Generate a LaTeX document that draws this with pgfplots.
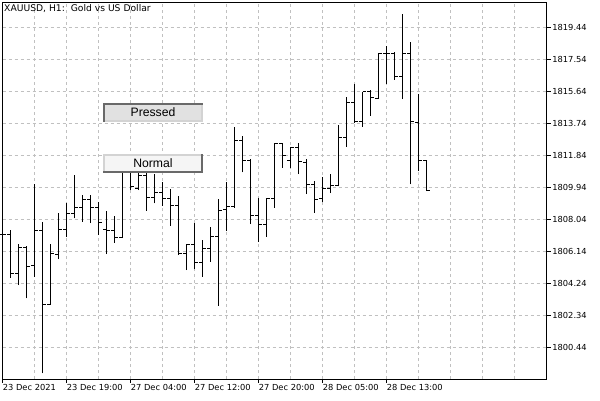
\documentclass[border=0pt]{standalone}
\usepackage{pgfplots}
\pgfplotsset{compat=1.18}
\usepackage{pgfplotstable}
\usepackage{fontspec}
\setmainfont{DejaVu Sans}
\newfontfamily\arialf{Liberation Sans}
\definecolor{gridc}{RGB}{192,192,192}
\definecolor{btndark}{RGB}{105,105,105}
\definecolor{btnlight}{RGB}{211,211,211}
\definecolor{pfill}{RGB}{225,225,225}
\definecolor{nfill}{RGB}{245,245,245}

\pgfplotstableread{
k O H L C
0 1807.13 1807.55 1806.54 1807.13
1 1807.13 1807.43 1804.60 1804.86
2 1804.86 1806.58 1804.16 1806.40
3 1806.40 1806.48 1803.37 1805.25
4 1805.31 1810.14 1804.66 1807.37
5 1807.37 1807.92 1798.92 1802.98
6 1803.02 1806.60 1802.98 1806.02
7 1805.99 1808.46 1805.69 1807.47
8 1807.47 1809.01 1807.03 1808.42
9 1808.42 1810.69 1808.12 1808.79
10 1808.77 1809.51 1807.92 1809.25
11 1809.25 1809.51 1807.83 1808.77
12 1808.77 1809.07 1807.13 1807.86
13 1807.43 1808.56 1805.99 1807.37
14 1807.37 1808.28 1806.67 1806.99
15 1806.99 1811.41 1806.95 1810.99
16 1810.99 1811.47 1809.80 1810.00
17 1809.90 1811.29 1809.80 1810.69
18 1810.69 1811.23 1808.57 1809.37
19 1809.37 1810.74 1809.01 1809.67
20 1809.67 1810.26 1808.87 1809.27
21 1809.27 1809.86 1807.67 1808.87
22 1808.87 1809.45 1805.94 1806.05
23 1806.05 1806.60 1805.05 1806.54
24 1806.54 1807.83 1805.11 1805.51
25 1805.51 1806.83 1804.66 1806.30
26 1806.30 1807.59 1805.55 1807.03
27 1807.03 1809.27 1802.93 1808.57
28 1808.65 1810.30 1807.37 1808.81
29 1808.81 1813.56 1808.75 1812.71
30 1812.71 1813.03 1810.85 1811.58
31 1811.58 1811.62 1807.77 1808.26
32 1808.26 1809.31 1806.73 1807.73
33 1807.73 1809.31 1807.03 1809.29
34 1809.29 1812.61 1808.75 1812.59
35 1812.59 1812.61 1811.13 1811.86
36 1811.58 1812.36 1811.09 1812.32
37 1812.32 1812.58 1810.74 1811.48
38 1811.45 1811.63 1809.55 1810.14
39 1810.14 1810.34 1808.46 1809.25
40 1809.29 1810.59 1809.07 1809.90
41 1809.90 1810.75 1809.61 1810.06
42 1810.06 1813.66 1810.02 1812.93
43 1812.93 1815.33 1812.37 1815.01
44 1815.01 1816.08 1813.80 1813.86
45 1813.84 1815.64 1813.56 1815.62
46 1815.62 1815.74 1814.22 1815.30
47 1815.25 1817.96 1815.23 1817.92
48 1817.92 1818.37 1816.12 1817.88
49 1817.92 1818.02 1816.35 1816.53
50 1816.53 1820.25 1815.19 1817.92
51 1817.92 1818.57 1810.14 1813.86
52 1813.82 1815.49 1810.95 1811.57
53 1811.57 1811.59 1809.74 1809.76
}\bars

\begin{document}
\begin{tikzpicture}
\begin{axis}[
  name=ax,
  scale only axis,
  width=544pt, height=376.3pt,
  xmin=0, xmax=68,
  ymin=1798.58, ymax=1820.92,
  clip=false,
  axis line style={black, line width=1pt},
  xtick={0,8,16,24,32,40,48},
  xticklabels={23 Dec 2021,23 Dec 19:00,27 Dec 04:00,27 Dec 12:00,27 Dec 20:00,28 Dec 05:00,28 Dec 13:00},
  minor xtick={4,12,20,28,36,44,52,56,60,64},
  ytick={1800.44,1802.34,1804.24,1806.14,1808.04,1809.94,1811.84,1813.74,1815.64,1817.54,1819.44},
  yticklabels={1800.44,1802.34,1804.24,1806.14,1808.04,1809.94,1811.84,1813.74,1815.64,1817.54,1819.44},
  xmajorgrids, xminorgrids, ymajorgrids,
  major grid style={draw=gridc, line width=1pt, dash pattern=on 3pt off 3pt},
  minor grid style={draw=gridc, line width=1pt, dash pattern=on 3pt off 3pt},
  tick align=outside,
  xtick pos=bottom, ytick pos=right,
  major tick length=4pt, minor tick length=0pt,
  tick style={black, line width=1pt},
  xticklabel style={anchor=north west, inner xsep=0pt, inner ysep=1pt, font=\fontsize{8.3}{10}\selectfont},
  yticklabel style={anchor=west, inner xsep=1.5pt, font=\fontsize{8.3}{10}\selectfont},
]
% high-low lines
\addplot[draw=none, mark=none,
  error bars/.cd, y dir=plus, y explicit, error mark=none,
  error bar style={draw=black, line width=1pt}]
  table[x=k, y=L, y error plus expr=\thisrow{H}-\thisrow{L}]{\bars};
% open ticks
\addplot[draw=none, mark=none,
  error bars/.cd, x dir=minus, x fixed=0.4, error mark=none,
  error bar style={draw=black, line width=1pt}]
  table[x=k, y=O]{\bars};
% close ticks
\addplot[draw=none, mark=none,
  error bars/.cd, x dir=plus, x fixed=0.4, error mark=none,
  error bar style={draw=black, line width=1pt}]
  table[x=k, y=C]{\bars};
\end{axis}
\begin{scope}[shift={(ax.north west)}, shift={(-2.7pt,2.7pt)}, x=1pt, y=-1pt]
  \node[anchor=north west, inner sep=0pt, font=\fontsize{9.2}{11}\selectfont] at (4,4.3) {XAUUSD, H1:~~Gold vs US Dollar};
  % Pressed button
  \fill[pfill] (103,103) rectangle (203,122);
  \fill[btnlight] (201,103) rectangle (203,122);
  \fill[btnlight] (103,120) rectangle (203,122);
  \fill[btndark] (103,103) rectangle (203,105);
  \fill[btndark] (103,103) rectangle (105,122);
  \node[font=\arialf\fontsize{12.2}{14}\selectfont, inner sep=0pt] at (153,112.5) {Pressed};
  % Normal button
  \fill[nfill] (103,154) rectangle (203,173);
  \fill[btnlight] (103,154) rectangle (203,156);
  \fill[btnlight] (103,154) rectangle (105,173);
  \fill[btndark] (201,154) rectangle (203,173);
  \fill[btndark] (103,171) rectangle (203,173);
  \node[font=\arialf\fontsize{12.2}{14}\selectfont, inner sep=0pt] at (153,163.5) {Normal};
  \pgfresetboundingbox
  \path[use as bounding box] (0,0) rectangle (600,400);
\end{scope}
\end{tikzpicture}
\end{document}
